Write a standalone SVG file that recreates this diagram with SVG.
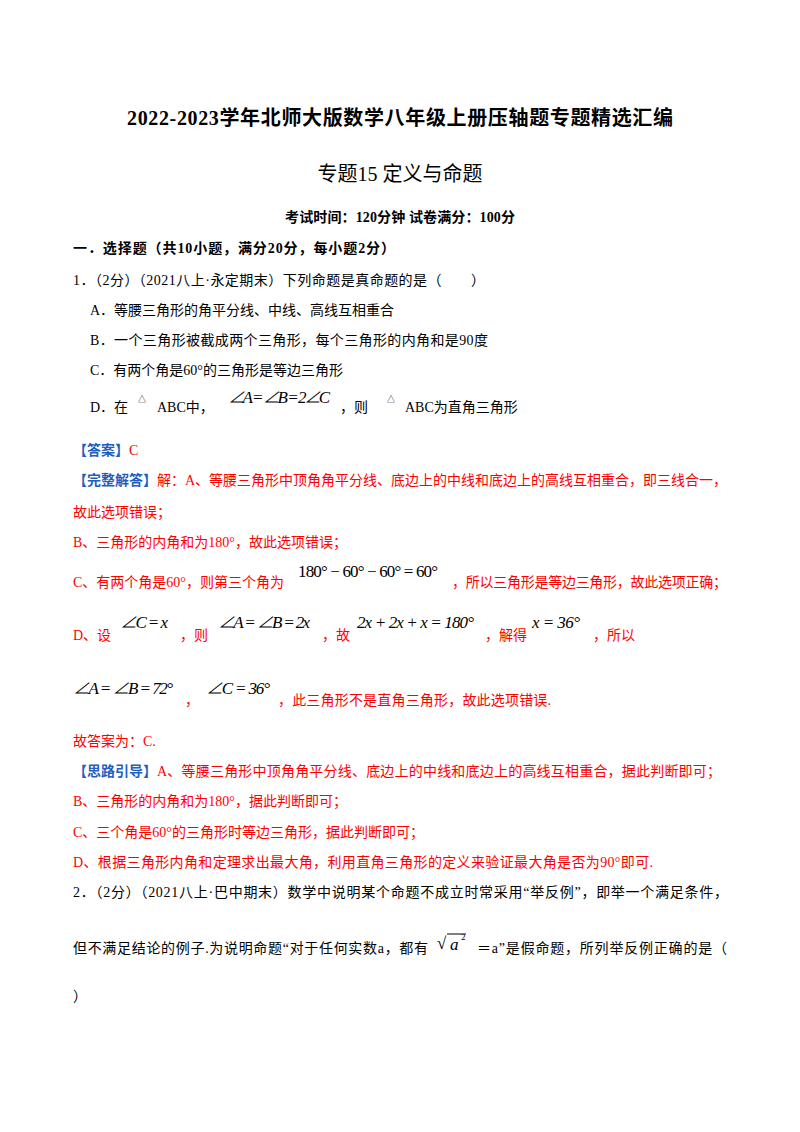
<svg xmlns="http://www.w3.org/2000/svg" width="800" height="1132" viewBox="0 0 800 1132">
<style>
text{font-family:"Liberation Serif","Noto Sans CJK SC",serif;font-size:14px;fill:#000}
.r{fill:#ff0000}
.b{fill:#1f5fbf;font-weight:bold}
.m{font-style:italic;font-size:17px}
.mr{font-size:17px}
.bold{font-weight:bold}
.t{font-size:8px}
</style>
<rect width="800" height="1132" fill="#fff"/>
<text x="400" y="125" text-anchor="middle" class="bold" style="font-size:20px" textLength="546">2022-2023学年北师大版数学八年级上册压轴题专题精选汇编</text>
<text x="400" y="181" text-anchor="middle" style="font-size:20px">专题15  定义与命题</text>
<text x="400" y="222" text-anchor="middle" class="bold" textLength="230">考试时间：120分钟 试卷满分：100分</text>
<text x="73" y="253" class="bold" textLength="322">一．选择题（共10小题，满分20分，每小题2分）</text>
<text x="73" y="285" textLength="412">1．（2分）（2021八上·永定期末）下列命题是真命题的是（　　）</text>
<text x="90" y="315">A．等腰三角形的角平分线、中线、高线互相重合</text>
<text x="90" y="345" textLength="398">B．一个三角形被截成两个三角形，每个三角形的内角和是90度</text>
<text x="90" y="375">C．有两个角是60°的三角形是等边三角形</text>
<text x="90" y="412">D．在</text><text x="138" y="402" class="t">△</text><text x="157" y="412">ABC中，</text>
<text x="228" y="403" class="m" textLength="102">∠A = ∠B = 2∠C</text>
<text x="340" y="412">，则</text><text x="387" y="402" class="t">△</text><text x="405" y="412">ABC为直角三角形</text>
<text x="73" y="455" class="b">【答案】</text><text x="129" y="455" class="r">C</text>
<text x="73" y="485" class="b">【完整解答】</text><text x="157" y="485" class="r" textLength="570">解：A、等腰三角形中顶角角平分线、底边上的中线和底边上的高线互相重合，即三线合一，</text>
<text x="73" y="517" class="r">故此选项错误；</text>
<text x="73" y="547" class="r">B、三角形的内角和为180°，故此选项错误；</text>
<text x="73" y="587" class="r">C、有两个角是60°，则第三个角为</text>
<text x="298" y="577" class="mr" textLength="140">180° − 60° − 60° = 60°</text>
<text x="452" y="587" class="r" textLength="275">，所以三角形是等边三角形，故此选项正确；</text>
<text x="73" y="640" class="r">D、设</text>
<text x="120" y="628" class="m" textLength="48">∠C = x</text>
<text x="180" y="640" class="r">，则</text>
<text x="218" y="628" class="m" textLength="92">∠A = ∠B = 2x</text>
<text x="322" y="640" class="r">，故</text>
<text x="357" y="628" class="m" textLength="117">2x + 2x + x = 180°</text>
<text x="485" y="640" class="r">，解得</text>
<text x="532" y="628" class="m" textLength="48">x = 36°</text>
<text x="593" y="640" class="r">，所以</text>
<text x="73" y="694" class="m" textLength="100">∠A = ∠B = 72°</text>
<text x="185" y="705" class="r">，</text>
<text x="206" y="694" class="m" textLength="64">∠C = 36°</text>
<text x="278" y="705" class="r" textLength="273">，此三角形不是直角三角形，故此选项错误.</text>
<text x="73" y="746" class="r">故答案为：C.</text>
<text x="73" y="776" class="b">【思路引导】</text><text x="157" y="776" class="r" textLength="564">A、等腰三角形中顶角角平分线、底边上的中线和底边上的高线互相重合，据此判断即可；</text>
<text x="73" y="806" class="r">B、三角形的内角和为180°，据此判断即可；</text>
<text x="73" y="837" class="r">C、三个角是60°的三角形时等边三角形，据此判断即可；</text>
<text x="73" y="867" class="r" textLength="580">D、根据三角形内角和定理求出最大角，利用直角三角形的定义来验证最大角是否为90°即可.</text>
<text x="73" y="897" textLength="655">2．（2分）（2021八上·巴中期末）数学中说明某个命题不成立时常采用“举反例”，即举一个满足条件，</text>
<text x="73" y="953" textLength="355">但不满足结论的例子.为说明命题“对于任何实数a，都有</text>
<text x="437" y="949" class="mr">√</text><line x1="447" y1="934" x2="466" y2="934" stroke="#000" stroke-width="1"/>
<text x="450" y="950" class="m">a</text><text x="461" y="940" style="font-size:9px">2</text>
<text x="477" y="953" textLength="250">＝a”是假命题，所列举反例正确的是（</text>
<text x="73" y="1001">）</text>
</svg>
